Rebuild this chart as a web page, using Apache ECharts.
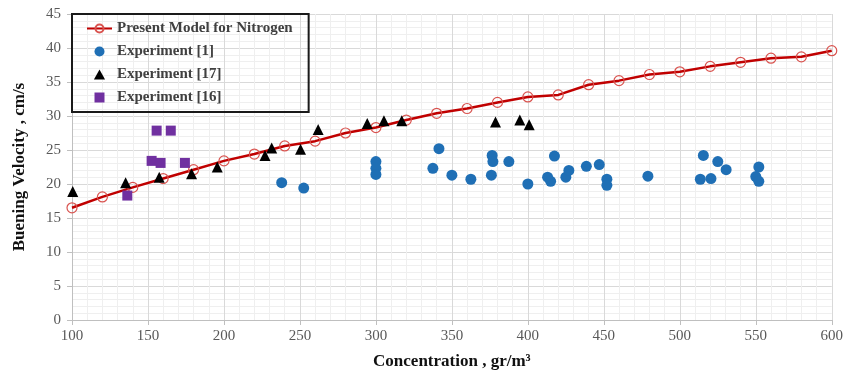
<!DOCTYPE html>
<html><head><meta charset="utf-8">
<script src="https://cdn.jsdelivr.net/npm/echarts/dist/echarts.min.js"></script>
<style>html,body{margin:0;padding:0;background:#fff}#c{width:846px;height:375px}</style>
</head><body><div id="c"></div>
<script>
const modelX = [100,120,140,160,180,200,220,240,260,280,300,320,340,360,380,400,420,440,460,480,500,520,540,560,580,600];
const modelY = [16.5,18.1,19.5,20.8,22.1,23.4,24.4,25.6,26.3,27.5,28.3,29.4,30.4,31.1,32.0,32.8,33.1,34.6,35.2,36.1,36.5,37.3,37.9,38.5,38.7,39.6];

const exp1X = [238,252.5,300,300,300,337.5,341.5,350,362.5,376,376.5,377,387.5,400,413,415,417.5,425,427,438.5,447,452,452,479,513.5,515.5,520.5,525,530.5,550,552,552];
const exp1Y = [20.2,19.4,23.3,22.3,21.4,22.3,25.2,21.3,20.7,21.3,24.2,23.3,23.3,20.0,21.0,20.4,24.1,21.0,22.0,22.6,22.85,20.7,19.8,21.15,20.7,24.2,20.8,23.3,22.1,21.1,22.5,20.4];

const exp17X = [100.5,135.3,157.4,178.7,195.6,227,231.4,250.4,262,294.3,305.3,317,378.7,394.7,400.9];
const exp17Y = [18.9,20.2,21.0,21.5,22.5,24.2,25.3,25.1,28.0,28.9,29.3,29.3,29.1,29.4,28.7];

const exp16X = [136.4,152.4,155.7,158.3,165,174.3];
const exp16Y = [18.3,23.4,27.85,23.1,27.85,23.1];

const seriesNames = ['Present Model for Nitrogen','Experiment [1]','Experiment [17]','Experiment [16]'];
const xTitle = 'Concentration , gr/m\u00B3';
const yTitle = 'Buening Velocity , cm/s';

const zip = (xs, ys) => xs.map((x, i) => [x, ys[i]]);
const serif = '"Liberation Serif", "Times New Roman", serif';

const chart = echarts.init(document.getElementById('c'), null, {renderer: 'canvas'});
chart.setOption({
  animation: false,
  backgroundColor: '#fff',
  grid: {left: 72, right: 14, top: 14, bottom: 52, containLabel: false},
  legend: {
    orient: 'vertical', left: 72, top: 14,
    padding: [7, 16, 7, 14], itemGap: 8, itemWidth: 25, itemHeight: 10,
    symbolKeepAspect: true,
    borderColor: '#1a1a1a', borderWidth: 2, borderRadius: 0,
    textStyle: {fontFamily: serif, fontWeight: 'bold', fontSize: 15, color: '#404040'},
    data: [
      {name: seriesNames[0]},
      {name: seriesNames[1], icon: 'circle'},
      {name: seriesNames[2], icon: 'path://M5,0L10,9L0,9Z'},
      {name: seriesNames[3], icon: 'path://M0,0H10V10H0Z'}
    ]
  },
  xAxis: {
    type: 'value', min: 100, max: 600, interval: 50,
    name: xTitle, nameLocation: 'middle', nameGap: 33,
    nameTextStyle: {fontFamily: serif, fontWeight: 'bold', fontSize: 17, color: '#111'},
    axisLine: {show: true, lineStyle: {color: '#bfbfbf', width: 1}},
    axisTick: {show: true, length: 5, lineStyle: {color: '#bfbfbf'}},
    axisLabel: {fontFamily: serif, fontSize: 15, color: '#595959', margin: 9},
    splitLine: {show: true, lineStyle: {color: '#d9d9d9', width: 1}},
    minorTick: {show: false, splitNumber: 5},
    minorSplitLine: {show: true, lineStyle: {color: '#efefef', width: 1}}
  },
  yAxis: {
    type: 'value', min: 0, max: 45, interval: 5,
    name: yTitle, nameLocation: 'middle', nameGap: 44,
    nameTextStyle: {fontFamily: serif, fontWeight: 'bold', fontSize: 17, color: '#111'},
    axisLine: {show: true, lineStyle: {color: '#bfbfbf', width: 1}},
    axisTick: {show: true, length: 5, lineStyle: {color: '#bfbfbf'}},
    axisLabel: {fontFamily: serif, fontSize: 15, color: '#595959', margin: 11},
    splitLine: {show: true, lineStyle: {color: '#d9d9d9', width: 1}},
    minorTick: {show: false, splitNumber: 5},
    minorSplitLine: {show: true, lineStyle: {color: '#efefef', width: 1}}
  },
  series: [
    {
      name: seriesNames[0], type: 'line', data: zip(modelX, modelY),
      symbol: 'circle', symbolSize: 10,
      lineStyle: {color: '#c00000', width: 2.5},
      itemStyle: {color: 'rgba(255,255,255,0)', borderColor: '#d9534f', borderWidth: 1.2},
      z: 2
    },
    {
      name: seriesNames[1], type: 'scatter', data: zip(exp1X, exp1Y),
      symbol: 'circle', symbolSize: 11, itemStyle: {color: '#1f6fb5', opacity: 1}, z: 3
    },
    {
      name: seriesNames[2], type: 'scatter', data: zip(exp17X, exp17Y),
      symbol: 'triangle', symbolSize: 11, itemStyle: {color: '#000', opacity: 1}, z: 3
    },
    {
      name: seriesNames[3], type: 'scatter', data: zip(exp16X, exp16Y),
      symbol: 'rect', symbolSize: 10, itemStyle: {color: '#7030a0', opacity: 1}, z: 3
    }
  ]
});
</script></body></html>
